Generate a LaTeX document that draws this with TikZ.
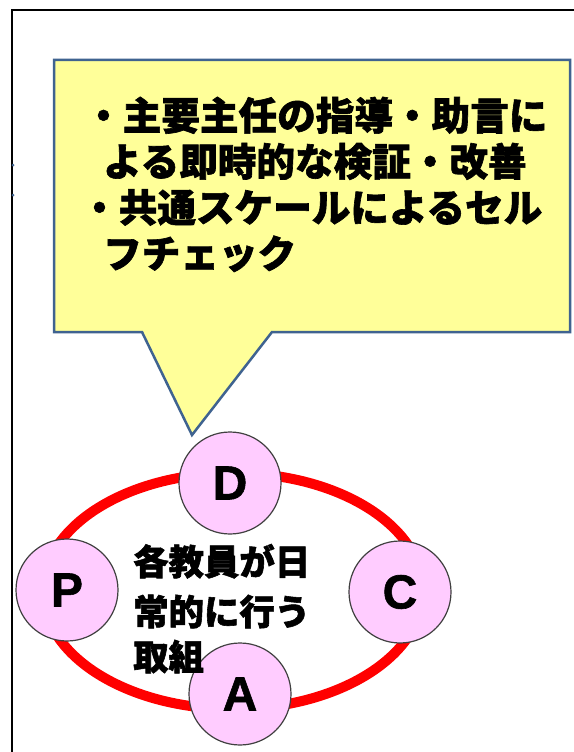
\documentclass[tikz,border=0pt]{standalone}
\usepackage{fontspec}
\setmainfont{Liberation Sans}[BoldFeatures={FakeBold=1.2}]
\newfontfamily\jp{Noto Sans CJK JP}[BoldFeatures={FakeBold=1.6}]
\definecolor{callfill}{HTML}{FFFF99}
\definecolor{calldraw}{HTML}{3F6390}
\definecolor{pdcafill}{HTML}{FFCCFF}
\definecolor{pdcadraw}{HTML}{404040}
\tikzset{
  callout/.style={fill=callfill, draw=calldraw, line width=2.5pt, line join=miter},
  calltext/.style={anchor=base west, inner sep=0pt, font=\jp\bfseries\fontsize{38.6}{46}\selectfont},
  innertext/.style={anchor=base west, inner sep=0pt, font=\jp\bfseries\fontsize{35.4}{47}\selectfont},
  pdca/.style={circle, minimum size=102pt, inner sep=0pt, fill=pdcafill, draw=pdcadraw, line width=1.2pt, font=\bfseries\fontsize{48}{48}\selectfont},
  cycleline/.style={draw=red, line width=10pt},
  frameline/.style={draw=black, line width=2pt}
}
\begin{document}
\begin{tikzpicture}[x=1pt,y=-1pt]
\useasboundingbox (0,0) rectangle (573,752);
\fill[white] (0,0) rectangle (573,752);
% outer frame (cropped)
\draw[frameline] (12,760) -- (12,10) -- (585,10);
\fill[calldraw] (13,165) circle (1.5);
\fill[calldraw] (13,195) circle (1.5);
% callout
\draw[callout] (54,60) -- (570,60) -- (570,332) -- (272,332) -- (192,435) -- (142,332) -- (54,332) -- cycle;
\node[calltext] (l1) at (84,130) {・主要主任の指導・助言に};
\node[calltext] (l2) at (103,176) {よる即時的な検証・改善};
\node[calltext] (l3) at (80,222) {・共通スケールによるセル};
\node[calltext] (l4) at (103,268) {フチェック};
% cycle
\draw[cycleline] (233,591) ellipse [x radius=190, y radius=118];
\node[pdca] (D) at (230,483) {D};
\node[pdca] (P) at (67,590) {P};
\node[pdca] (C) at (400,592) {C};
\node[pdca] (A) at (240,694) {A};
\node[innertext] (t1) at (133,575) {各教員が日};
\node[innertext] (t2) at (133,625) {常的に行う};
\node[innertext] (t3) at (133,670) {取組};
\end{tikzpicture}
\end{document}
